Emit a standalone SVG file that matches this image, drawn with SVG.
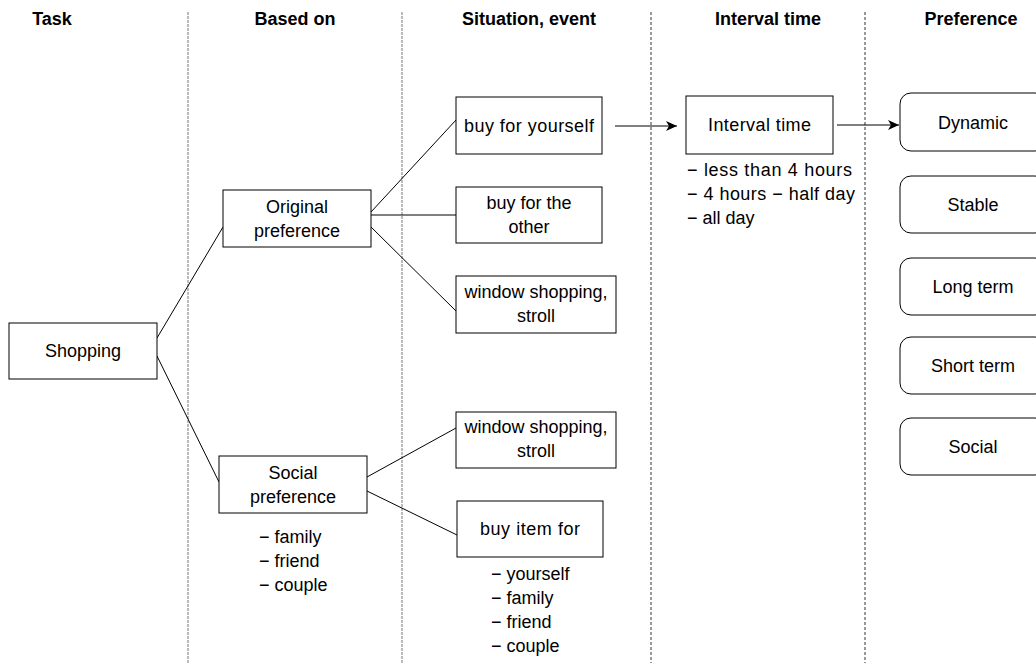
<svg xmlns="http://www.w3.org/2000/svg" width="1036" height="663" viewBox="0 0 1036 663">
<style>
text{font-family:"Liberation Sans",Arial,sans-serif;font-size:18px;fill:#000}
.h{font-weight:bold;text-anchor:middle}
.c{text-anchor:middle}
.box{fill:#fff;stroke:#000;stroke-width:1}
.sep1{stroke:#777;stroke-width:1;stroke-dasharray:3 1}
.sep2{stroke:#333;stroke-width:1;stroke-dasharray:3 2}
.ln{stroke:#000;stroke-width:1;fill:none}
</style>
<defs>
<marker id="arr" markerWidth="12" markerHeight="10" refX="11" refY="5" orient="auto" markerUnits="userSpaceOnUse">
<path d="M0,0 L11,5 L0,10 L3,5 Z" fill="#000"/>
</marker>
</defs>
<rect width="1036" height="663" fill="#fff"/>
<g id="separators">
<line class="sep1" x1="188" y1="12" x2="188" y2="663"/>
<line class="sep1" x1="402" y1="12" x2="402" y2="663"/>
<line class="sep2" x1="651" y1="12" x2="651" y2="663"/>
<line class="sep2" x1="865" y1="12" x2="865" y2="663"/>
</g>
<g id="headers">
<text class="h" x="52" y="25">Task</text>
<text class="h" x="295" y="25">Based on</text>
<text class="h" x="529" y="25">Situation, event</text>
<text class="h" x="768" y="25">Interval time</text>
<text class="h" x="971" y="25">Preference</text>
</g>
<g id="connectors">
<line class="ln" x1="157" y1="338" x2="223" y2="227"/>
<line class="ln" x1="157" y1="356" x2="219" y2="482"/>
<line class="ln" x1="371" y1="212" x2="456" y2="120"/>
<line class="ln" x1="371" y1="215" x2="456" y2="215"/>
<line class="ln" x1="371" y1="227" x2="456" y2="311"/>
<line class="ln" x1="367" y1="477" x2="456" y2="428"/>
<line class="ln" x1="367" y1="491" x2="457" y2="535"/>
<line class="ln" x1="615" y1="126" x2="677" y2="126" marker-end="url(#arr)"/>
<line class="ln" x1="837" y1="125" x2="899" y2="125" marker-end="url(#arr)"/>
</g>
<g id="shopping">
<rect class="box" x="9" y="323" width="148" height="56"/>
<text class="c" x="83" y="357">Shopping</text>
</g>
<g id="original-preference">
<rect class="box" x="223" y="190" width="148" height="57"/>
<text class="c" x="297" y="213">Original</text>
<text class="c" x="297" y="237">preference</text>
</g>
<g id="social-preference">
<rect class="box" x="219" y="456" width="148" height="57"/>
<text class="c" x="293" y="479">Social</text>
<text class="c" x="293" y="503">preference</text>
<text x="259" y="543">− family</text>
<text x="259" y="567">− friend</text>
<text x="259" y="591">− couple</text>
</g>
<g id="buy-for-yourself">
<rect class="box" x="456" y="97" width="146" height="57"/>
<text class="c" x="529" y="132" textLength="130">buy for yourself</text>
</g>
<g id="buy-for-the-other">
<rect class="box" x="456" y="187" width="146" height="56"/>
<text class="c" x="529" y="209">buy for the</text>
<text class="c" x="529" y="233">other</text>
</g>
<g id="window-shopping-1">
<rect class="box" x="456" y="276" width="160" height="57"/>
<text class="c" x="536" y="298">window shopping,</text>
<text class="c" x="536" y="322">stroll</text>
</g>
<g id="window-shopping-2">
<rect class="box" x="456" y="412" width="160" height="56"/>
<text class="c" x="536" y="433">window shopping,</text>
<text class="c" x="536" y="457">stroll</text>
</g>
<g id="buy-item-for">
<rect class="box" x="457" y="501" width="146" height="56"/>
<text class="c" x="530" y="535" textLength="100">buy item for</text>
<text x="491" y="580">− yourself</text>
<text x="491" y="604">− family</text>
<text x="491" y="628">− friend</text>
<text x="491" y="652">− couple</text>
</g>
<g id="interval-time">
<rect class="box" x="686" y="96" width="147" height="58"/>
<text class="c" x="759.5" y="131" textLength="103">Interval time</text>
<text x="687" y="176" textLength="165">− less than 4 hours</text>
<text x="687" y="200" textLength="168">− 4 hours − half day</text>
<text x="687" y="224">− all day</text>
</g>
<g id="dynamic">
<rect class="box" x="900" y="93" width="146" height="58" rx="11"/>
<text class="c" x="973" y="129">Dynamic</text>
</g>
<g id="stable">
<rect class="box" x="900" y="176" width="146" height="57" rx="11"/>
<text class="c" x="973" y="211">Stable</text>
</g>
<g id="long-term">
<rect class="box" x="900" y="258" width="146" height="57" rx="11"/>
<text class="c" x="973" y="293">Long term</text>
</g>
<g id="short-term">
<rect class="box" x="900" y="337" width="146" height="57" rx="11"/>
<text class="c" x="973" y="372">Short term</text>
</g>
<g id="social">
<rect class="box" x="900" y="418" width="146" height="57" rx="11"/>
<text class="c" x="973" y="453">Social</text>
</g>
</svg>
